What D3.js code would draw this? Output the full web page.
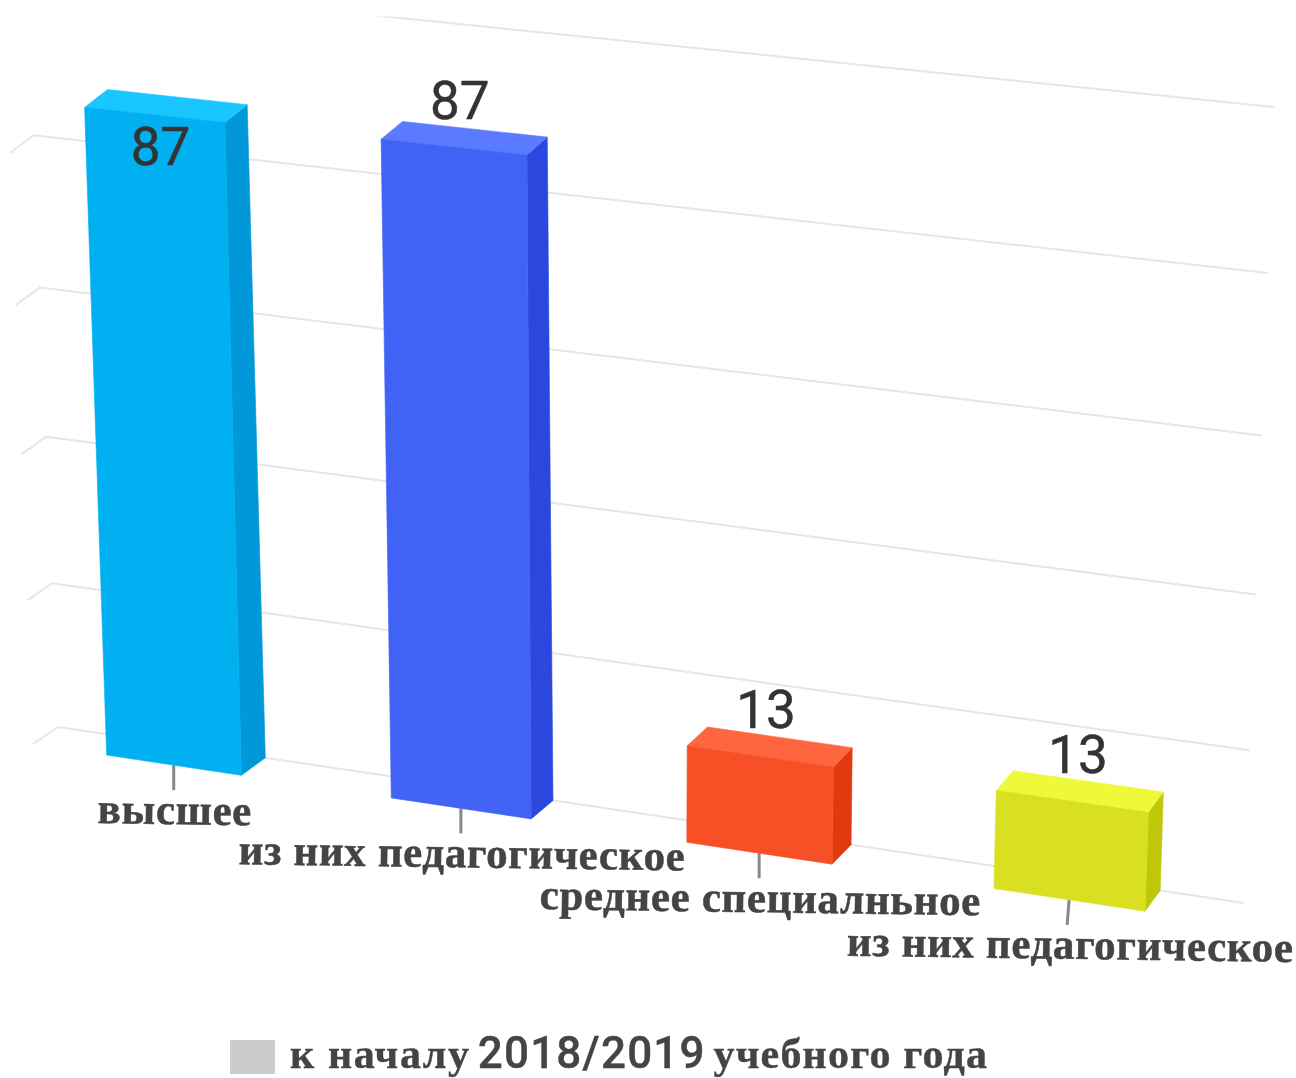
<!DOCTYPE html>
<html><head><meta charset="utf-8">
<script src="https://cdnjs.cloudflare.com/ajax/libs/d3/7.8.5/d3.min.js"></script>
<style>html,body{margin:0;padding:0;background:#fff}svg{display:block;filter:blur(.7px)}</style>
</head><body><svg id="c" width="1296" height="1078"></svg>
<script>
// ---- data ----
const categories = ["высшее","из них педагогическое","среднее специалньное","из них педагогическое"];
const values = [87,87,13,13];
const labelInside = [true,false,false,false];
const valueTicks = [0,20,40,60,80,100];
const legendWords = ["к началу ","2018/2019"," учебного года"];
const frontColors = ["#00B0F0","#4163F5","#F85026","#D8E021"];
const topColors   = ["#1AC6FF","#5A7BFF","#FF6640","#EEF93A"];
const sideColors  = ["#0098D8","#2A48DD","#E03A10","#BEC808"];

// ---- perspective: unit square -> screen quad, one for back wall and one for front plane ----
function quad(p){
  const [[x0,y0],[x1,y1],[x2,y2],[x3,y3]] = p;
  const dx1=x1-x2,dx2=x3-x2,sx=x0-x1+x2-x3,dy1=y1-y2,dy2=y3-y2,sy=y0-y1+y2-y3;
  const den=dx1*dy2-dx2*dy1, g=(sx*dy2-dx2*sy)/den, h=(dx1*sy-sx*dy1)/den;
  const a=x1-x0+g*x1,b=x3-x0+h*x3,d=y1-y0+g*y1,e=y3-y0+h*y3;
  return (u,v)=>{const w=g*u+h*v+1;return [(a*u+b*v+x0)/w,(d*u+e*v+y0)/w];};
}
const wall  = quad([[58,727],[1244,903],[1274,107],[27,-20]]);
const front = quad([[33,744],[1230,924],[1262,125],[4,-2]]);

const xBand = d3.scaleBand().domain(d3.range(categories.length)).range([0,1]).paddingInner(.522).paddingOuter(.265);
const yVal  = d3.scaleLinear().domain([0,100]).range([0,1]);

const svg = d3.select("#c");
const defs = svg.append("defs");
defs.append("clipPath").attr("id","plot").append("rect").attr("x",0).attr("y",16.5).attr("width",1296).attr("height",1061);
const line = d3.line();

// grid
const grid = svg.append("g").attr("clip-path","url(#plot)");
grid.selectAll("path").data(valueTicks).join("path")
  .attr("d",t=>line([front(0,yVal(t)),wall(0,yVal(t)),wall(1,yVal(t))]))
  .attr("fill","none").attr("stroke","#e6e6e6").attr("stroke-width",2);

// ticks
const bars = categories.map((c,i)=>({c,i,v:values[i],u0:xBand(i),u1:xBand(i)+xBand.bandwidth(),um:xBand(i)+xBand.bandwidth()/2}));
svg.append("g").selectAll("line").data(bars).join("line")
  .attr("x1",d=>front(d.um,0)[0]).attr("y1",d=>front(d.um,0)[1])
  .attr("x2",d=>front(d.um,0)[0]-(d.i==3?2:0)).attr("y2",d=>front(d.um,0)[1]+25)
  .attr("stroke","#888").attr("stroke-width",3);

// bars
const gb = svg.append("g").selectAll("g").data(bars).join("g");
const face=(cols,pts)=>(s)=>s.attr("d",d=>line(pts(d))+"Z").attr("fill",d=>cols[d.i]).attr("stroke",d=>cols[d.i]).attr("stroke-width",.6);
gb.append("path").call(face(sideColors,d=>[front(d.u1,0),wall(d.u1,0),wall(d.u1,yVal(d.v)),front(d.u1,yVal(d.v))]));
gb.append("path").call(face(topColors,d=>[front(d.u0,yVal(d.v)),front(d.u1,yVal(d.v)),wall(d.u1,yVal(d.v)),wall(d.u0,yVal(d.v))]));
gb.append("path").call(face(frontColors,d=>[front(d.u0,0),front(d.u1,0),front(d.u1,yVal(d.v)),front(d.u0,yVal(d.v))]));

// value labels
svg.append("g").selectAll("text").data(bars).join("text")
  .attr("x",d=>front(d.um,yVal(d.v))[0]+6)
  .attr("y",d=>front(d.um,yVal(d.v))[1]+(labelInside[d.i]?50:-28))
  .attr("text-anchor","middle").attr("font-family","Roboto").attr("font-size",53).attr("fill","#333")
  .attr("stroke","#333").attr("stroke-width",.5)
  .text(d=>d.v);

// category labels
svg.append("g").selectAll("text").data(bars).join("text")
  .attr("transform",d=>{const p=front(d.um,0);return `translate(${p[0]+1},${p[1]+59}) rotate(.8)`;})
  .attr("text-anchor","middle").attr("font-family","Liberation Serif").attr("font-weight",700)
  .attr("font-size",43).attr("letter-spacing",.65).attr("fill","#444")
  .attr("stroke","#444").attr("stroke-width",.5)
  .text(d=>d.c);

// legend
svg.append("rect").attr("x",230).attr("y",1040).attr("width",45).attr("height",34).attr("fill","#ccc");
const lg = svg.append("text").attr("x",290).attr("y",1068).attr("font-size",42)
  .attr("fill","#444").attr("stroke","#444").attr("stroke-width",.4);
lg.selectAll("tspan").data(legendWords).join("tspan").text(d=>d)
  .attr("font-size",(d,i)=>i==1?44:42)
  .attr("letter-spacing",(d,i)=>[1.6,1.2,1.2][i])
  .attr("dx",(d,i)=>[0,-5,-4][i])
  .attr("font-family",(d,i)=>i==1?"Roboto":"Liberation Serif").attr("font-weight",(d,i)=>i==1?500:700);
</script></body></html>
